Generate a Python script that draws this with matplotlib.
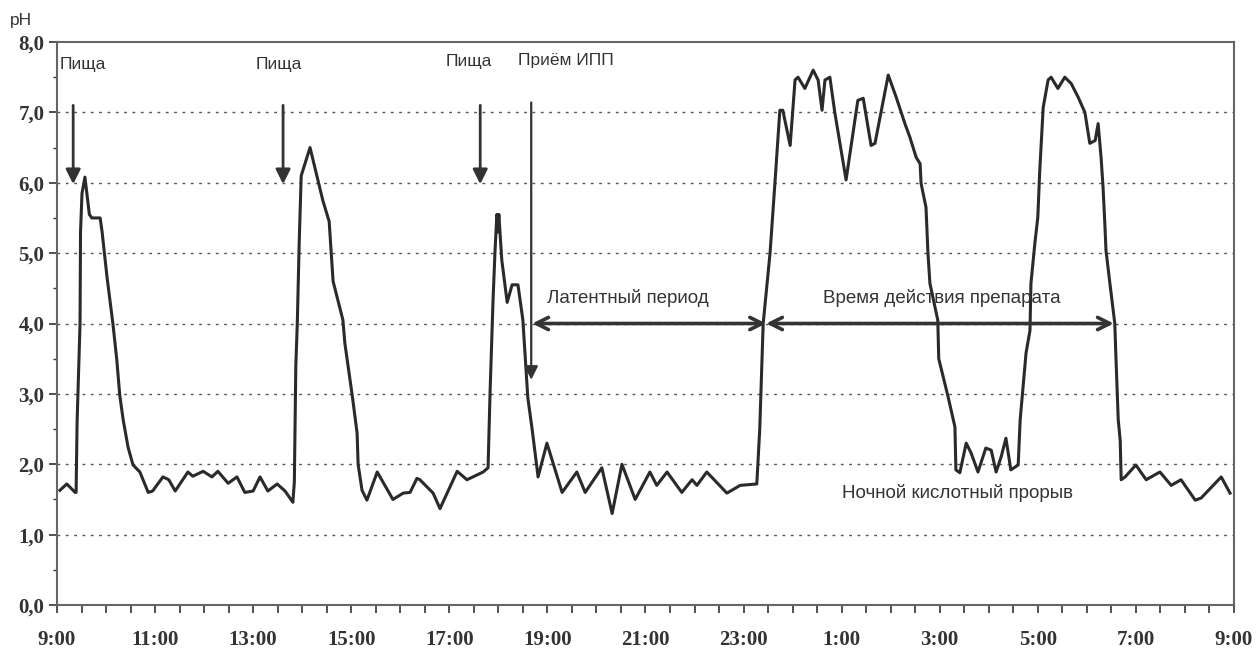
import numpy as np
import matplotlib
matplotlib.use("Agg")
import matplotlib.pyplot as plt
from matplotlib.ticker import MultipleLocator

# time in hours after 9:00, pH values
hours = [0.06, 0.20, 0.37, 0.39, 0.41, 0.45, 0.47, 0.48, 0.51, 0.57, 0.66, 0.71, 0.88, 0.92,
         1.02, 1.14, 1.22, 1.28, 1.35, 1.45, 1.55, 1.69, 1.86, 1.95, 2.16, 2.28, 2.41, 2.67,
         2.77, 2.98, 3.16, 3.28, 3.49, 3.67, 3.83, 4.00, 4.14, 4.30, 4.49, 4.65, 4.81, 4.84,
         4.87, 4.90, 4.94, 4.98, 5.16, 5.32, 5.42, 5.55, 5.63, 5.83, 5.87, 6.02, 6.12, 6.14,
         6.22, 6.32, 6.53, 6.85, 7.06, 7.20, 7.34, 7.40, 7.67, 7.81, 8.16, 8.36, 8.69, 8.79,
         8.83, 8.89, 8.93, 8.97, 8.99, 9.01, 9.07, 9.18, 9.28, 9.40, 9.50, 9.60, 9.69, 9.81,
         9.99, 10.30, 10.60, 10.77, 11.11, 11.32, 11.52, 11.79, 12.09, 12.23, 12.44, 12.74,
         12.95, 13.05, 13.25, 13.66, 13.93, 14.27, 14.33, 14.40, 14.54, 14.64, 14.74, 14.80,
         14.95, 15.05, 15.11, 15.25, 15.42, 15.52, 15.60, 15.66, 15.76, 15.86, 16.09, 16.33,
         16.44, 16.60, 16.68, 16.95, 17.11, 17.29, 17.39, 17.52, 17.60, 17.62, 17.72, 17.76,
         17.80, 17.96, 17.98, 18.17, 18.31, 18.33, 18.41, 18.54, 18.64, 18.78, 18.94, 19.05,
         19.15, 19.25, 19.35, 19.45, 19.60, 19.64, 19.70, 19.76, 19.84, 19.86, 19.94, 20.00,
         20.04, 20.11, 20.21, 20.27, 20.41, 20.55, 20.68, 20.82, 20.96, 21.06, 21.17, 21.23,
         21.29, 21.33, 21.37, 21.39, 21.47, 21.57, 21.59, 21.64, 21.68, 21.70, 21.78, 22.00,
         22.21, 22.49, 22.72, 22.92, 23.21, 23.33, 23.74, 23.92]
ph = [1.63, 1.72, 1.60, 1.60, 2.60, 3.50, 4.00, 5.30, 5.85, 6.08, 5.55, 5.50, 5.50, 5.30,
      4.66, 4.00, 3.48, 2.98, 2.63, 2.24, 1.99, 1.89, 1.60, 1.62, 1.82, 1.78, 1.62, 1.89,
      1.83, 1.90, 1.82, 1.90, 1.73, 1.82, 1.60, 1.62, 1.82, 1.62, 1.72, 1.62, 1.46, 1.75,
      3.40, 4.00, 5.18, 6.10, 6.50, 6.04, 5.75, 5.45, 4.60, 4.05, 3.72, 2.98, 2.44, 2.00,
      1.63, 1.49, 1.89, 1.50, 1.59, 1.60, 1.80, 1.78, 1.59, 1.37, 1.90, 1.78, 1.89, 1.95,
      3.00, 4.30, 5.00, 5.55, 5.30, 5.55, 4.90, 4.30, 4.55, 4.55, 4.05, 2.95, 2.49, 1.82,
      2.30, 1.60, 1.89, 1.60, 1.95, 1.30, 2.00, 1.50, 1.89, 1.70, 1.89, 1.60,
      1.78, 1.70, 1.89, 1.59, 1.70, 1.72, 2.50, 4.00, 5.00, 6.00, 7.03, 7.03,
      6.53, 7.46, 7.50, 7.34, 7.60, 7.46, 7.03, 7.46, 7.50, 7.00, 6.04, 7.17,
      7.20, 6.53, 6.56, 7.53, 7.22, 6.84, 6.65, 6.36, 6.27, 5.99, 5.65, 5.00,
      4.57, 4.05, 3.50, 2.96, 2.53, 1.92, 1.88, 2.30, 2.16, 1.89, 2.23, 2.20,
      1.89, 2.10, 2.37, 1.92, 1.99, 2.63, 3.10, 3.58, 3.90, 4.57, 5.14, 5.51,
      6.18, 7.07, 7.46, 7.50, 7.34, 7.50, 7.41, 7.22, 7.00, 6.56, 6.60, 6.84,
      6.36, 5.94, 5.37, 5.04, 4.57, 4.00, 3.58, 2.63, 2.34, 1.78, 1.82, 1.99,
      1.78, 1.89, 1.70, 1.78, 1.49, 1.52, 1.82, 1.59]

tick_hours = [0, 2, 4, 6, 8, 10, 12, 14, 16, 18, 20, 22, 24]
tick_labels = ["9:00", "11:00", "13:00", "15:00", "17:00", "19:00", "21:00",
               "23:00", "1:00", "3:00", "5:00", "7:00", "9:00"]
ph_ticks = [0, 1, 2, 3, 4, 5, 6, 7, 8]
ph_labels = ["0,0", "1,0", "2,0", "3,0", "4,0", "5,0", "6,0", "7,0", "8,0"]

# meals (time of arrow) and drug intake
meal_hours = [0.33, 4.61, 8.63]
ipp_hour = 9.69
latent = (9.69, 14.46)
effect = (14.46, 21.55)

fig = plt.figure(figsize=(12.58, 6.5), dpi=100)
ax = fig.add_axes([0.0453, 0.0692, 0.9356, 0.8662])

ax.plot(hours, ph, color="#2a2a2a", lw=2.2)

ax.set_xlim(0, 24)
ax.set_ylim(0, 8)
ax.set_xticks(tick_hours)
ax.set_xticklabels(tick_labels, family="Liberation Serif", weight="bold", fontsize=15)
ax.set_yticks(ph_ticks)
ax.set_yticklabels(ph_labels, family="Liberation Serif", weight="bold", fontsize=15)
ax.xaxis.set_minor_locator(MultipleLocator(0.5))
ax.yaxis.set_minor_locator(MultipleLocator(0.5))
ax.tick_params(axis="x", which="both", length=6, width=1.2, color="#555555", pad=12)
ax.tick_params(axis="y", which="major", length=6, width=1.2, color="#555555", pad=3)
ax.tick_params(axis="y", which="minor", length=3, width=1.0, color="#555555")
ax.tick_params(colors="#333333", which="both", labelcolor="#333333")

for s in ax.spines.values():
    s.set_color("#666666")
    s.set_linewidth(1.5)

for y in range(1, 8):
    ax.axhline(y, color="#555555", lw=1.0, ls=(0, (2, 4)), zorder=0)

small = dict(family="Liberation Sans", fontsize=12.5, color="#333333")
big = dict(family="Liberation Sans", fontsize=13.5, color="#333333")
fig.text(0.008, 0.968, "pH", va="center", ha="left", **small)

# meal arrows
for t in meal_hours:
    ax.annotate("", xy=(t, 5.98), xytext=(t, 7.1),
                arrowprops=dict(arrowstyle="-|>", color="#333333", lw=2.0,
                                mutation_scale=22, shrinkA=0, shrinkB=0))
ax.text(0.06, 7.68, "Пища", ha="left", va="center", **small)
ax.text(4.05, 7.68, "Пища", ha="left", va="center", **small)
ax.text(7.92, 7.72, "Пища", ha="left", va="center", **small)
ax.text(9.40, 7.74, "Приём ИПП", ha="left", va="center", **small)

# drug intake arrow
ax.annotate("", xy=(ipp_hour - 0.02, 3.2), xytext=(ipp_hour - 0.02, 7.14),
            arrowprops=dict(arrowstyle="-|>", color="#333333", lw=1.6,
                            mutation_scale=20, shrinkA=0, shrinkB=0))

# period arrows
for a, b in (latent, effect):
    ax.annotate("", xy=(b, 4.0), xytext=(a, 4.0),
                arrowprops=dict(arrowstyle="<->", color="#333333", lw=2.6,
                                mutation_scale=22, shrinkA=0, shrinkB=0))
ax.text(10.0, 4.36, "Латентный период", ha="left", va="center", **big)
ax.text(15.62, 4.36, "Время действия препарата", ha="left", va="center", **big)
ax.text(16.0, 1.59, "Ночной кислотный прорыв", ha="left", va="center", **big)

fig.savefig("out.png", dpi=100)
